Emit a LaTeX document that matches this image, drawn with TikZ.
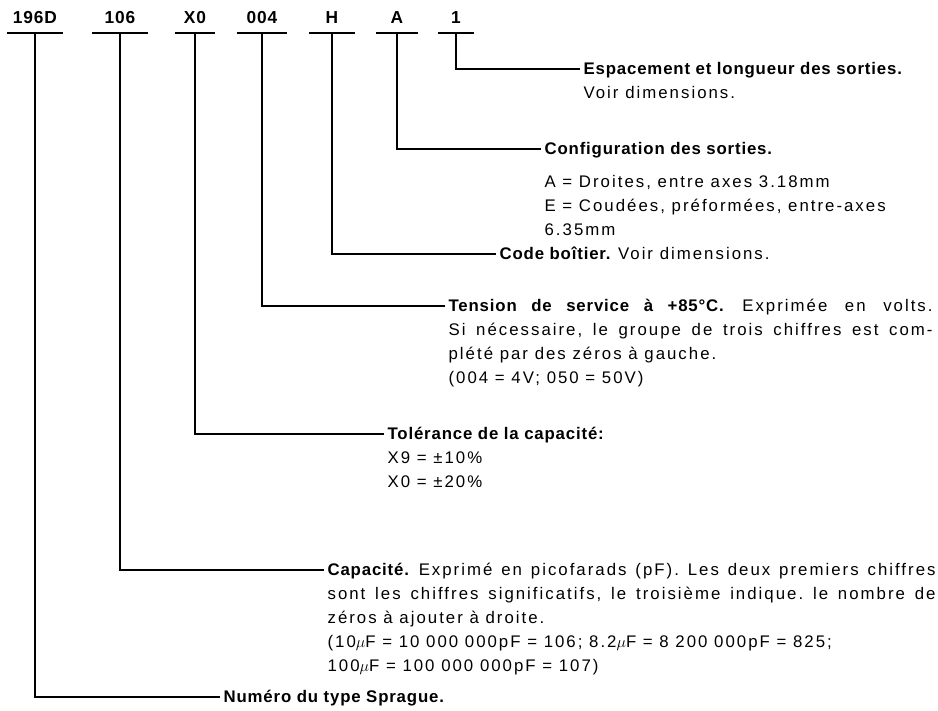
\documentclass[tikz,border=0pt]{standalone}
\usepackage{fontspec}
\setmainfont{Liberation Sans}[LetterSpace=12, BoldFeatures={LetterSpace=5}]
\newcommand{\jl}[2]{\makebox[#1][s]{#2}}
\begin{document}
\begin{tikzpicture}[x=0.75pt,y=-0.75pt,
  font=\fontsize{12.6}{18}\selectfont\frenchspacing,
  code/.style={font=\fontsize{13}{15}\selectfont\bfseries, anchor=south,
    inner xsep=0pt, inner ysep=7pt, text depth=0pt},
  ul/.style={line width=2.2pt},
  lead/.style={line width=1.4pt},
  desc/.style={anchor=north west, inner sep=0pt, align=left, xshift=2.5pt, yshift=8.6pt}]
\useasboundingbox (0,0) rectangle (938,710);

% code labels
\node[code, minimum width=41pt] (n1) at (35,33) {196D};
\node[code, minimum width=41pt] (n2) at (120,33) {106};
\node[code, minimum width=30pt] (n3) at (195,33) {X0};
\node[code, minimum width=37.5pt] (n4) at (262,33) {004};
\node[code, minimum width=34pt] (n5) at (332,33) {H};
\node[code, minimum width=31pt] (n6) at (397,33) {A};
\node[code, minimum width=26pt] (n7) at (456,33) {1};
\foreach \n in {n1,n2,n3,n4,n5,n6,n7}
  \draw[ul] (\n.south west) -- (\n.south east);

% connector ends
\coordinate (c7) at (580,69);
\coordinate (c6) at (541,149);
\coordinate (c5) at (496,254);
\coordinate (c4) at (445,306);
\coordinate (c3) at (384,434);
\coordinate (c2) at (324,570);
\coordinate (c1) at (220,697);

\draw[lead] (n7.south) |- (c7);
\draw[lead] (n6.south) |- (c6);
\draw[lead] (n5.south) |- (c5);
\draw[lead] (n4.south) |- (c4);
\draw[lead] (n3.south) |- (c3);
\draw[lead] (n2.south) |- (c2);
\draw[lead] (n1.south) |- (c1);

% descriptions
\node[desc] (t7) at (c7) {\strut\textbf{Espacement et longueur des sorties.}\\ Voir dimensions.};
\node[desc] (t6) at (c6) {\strut\textbf{Configuration des sorties.}\\[7pt]
  A = Droites, entre axes 3.18mm\\
  E = Coudées, préformées, entre-axes\\
  6.35mm};
\node[desc] (t5) at (c5) {\strut\textbf{Code boîtier.} Voir dimensions.};
\node[desc] (t4) at (c4) {\strut\jl{363pt}{\textbf{Tension de service à +85°C.} Exprimée en volts.}\\
  \jl{363pt}{Si nécessaire, le groupe de trois chiffres est com-}\\
  plété par des zéros à gauche.\\
  (004 = 4V; 050 = 50V)};
\node[desc] (t3) at (c3) {\strut\textbf{Tolérance de la capacité:}\\
  X9 = ±10\%\\
  X0 = ±20\%};
\node[desc] (t2) at (c2) {\strut\jl{456pt}{\textbf{Capacité.} Exprimé en picofarads (pF). Les deux premiers chiffres}\\
  \jl{456pt}{sont les chiffres significatifs, le troisième indique. le nombre de}\\
  zéros à ajouter à droite.\\
  (10$\mu$F = 10 000 000pF = 106; 8.2$\mu$F = 8 200 000pF = 825;\\
  100$\mu$F = 100 000 000pF = 107)};
\node[desc] (t1) at (c1) {\strut\textbf{Numéro du type Sprague.}};
\end{tikzpicture}
\end{document}
